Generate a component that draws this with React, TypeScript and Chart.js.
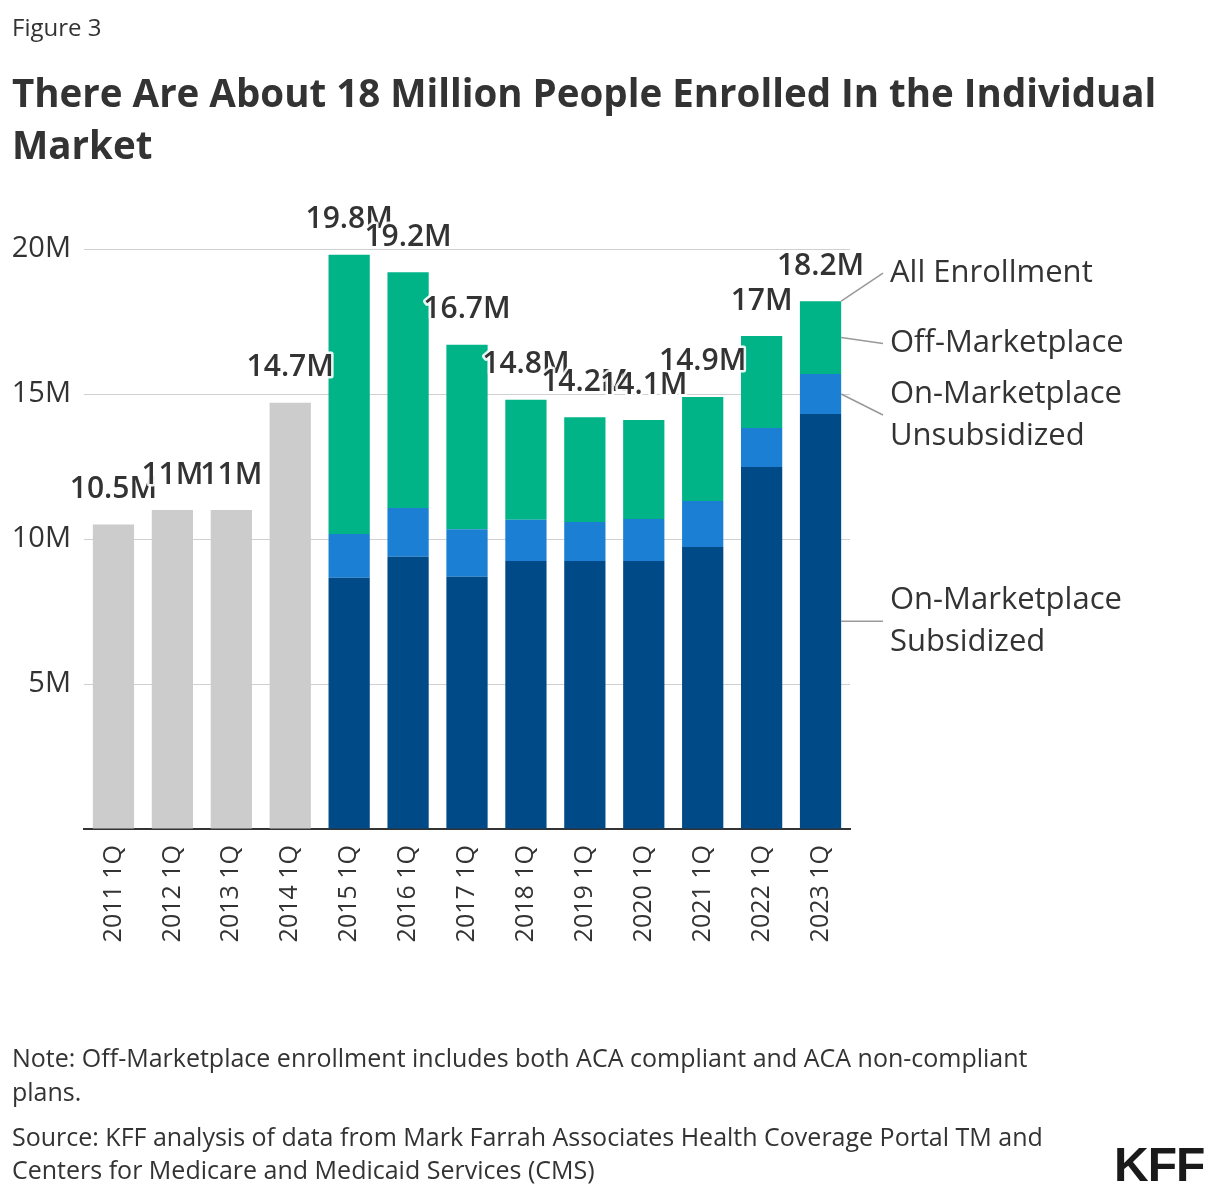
import React, { useEffect, useRef } from "react";
import { Chart, registerables } from "chart.js";

Chart.register(...registerables);

const categories = [
  "2011 1Q", "2012 1Q", "2013 1Q", "2014 1Q", "2015 1Q", "2016 1Q", "2017 1Q",
  "2018 1Q", "2019 1Q", "2020 1Q", "2021 1Q", "2022 1Q", "2023 1Q",
];
const allEnrollmentPre2015 = [10.5, 11, 11, 14.7, null, null, null, null, null, null, null, null, null];
const onMarketplaceSubsidized = [null, null, null, null, 8.66, 9.39, 8.7, 9.24, 9.24, 9.24, 9.72, 12.48, 14.31];
const onMarketplaceUnsubsidized = [null, null, null, null, 1.51, 1.68, 1.64, 1.42, 1.35, 1.45, 1.59, 1.35, 1.38];
const offMarketplace = [null, null, null, null, 9.63, 8.13, 6.36, 4.14, 3.61, 3.41, 3.59, 3.17, 2.51];
const yTickValues = [5, 10, 15, 20];

const FONT = "'Open Sans', 'Noto Sans', sans-serif";
const TEXT = "#333333";

const COLORS = {
  gray: "#cccccc",
  sub: "#004a87",
  unsub: "#1b80d4",
  off: "#00b487",
};

function fmt(v: number) {
  const r = Math.round(v * 10) / 10;
  return (Number.isInteger(r) ? r.toFixed(0) : r.toFixed(1)) + "M";
}

const totalsPlugin = {
  id: "totals",
  afterDatasetsDraw(chart: any) {
    const ctx = chart.ctx;
    const y = chart.scales.y;
    ctx.save();
    ctx.font = `600 30px ${FONT}`;
    ctx.textAlign = "center";
    ctx.textBaseline = "middle";
    ctx.lineJoin = "round";
    categories.forEach((_, i) => {
      let total = 0;
      let x = 0;
      chart.data.datasets.forEach((ds: any, di: number) => {
        const v = ds.data[i];
        if (v != null) {
          total += v;
          const el = chart.getDatasetMeta(di).data[i];
          x = el.x;
        }
      });
      const ty = y.getPixelForValue(total) - 35;
      const label = fmt(total);
      ctx.strokeStyle = "rgba(255,255,255,0.9)";
      ctx.lineWidth = 5;
      ctx.strokeText(label, x, ty);
      ctx.fillStyle = TEXT;
      ctx.fillText(label, x, ty);
    });
    ctx.restore();
  },
};

const annotationPlugin = {
  id: "annot",
  afterDatasetsDraw(chart: any) {
    const ctx = chart.ctx;
    const last = categories.length - 1;
    const subEl = chart.getDatasetMeta(1).data[last];
    const unsubEl = chart.getDatasetMeta(2).data[last];
    const offEl = chart.getDatasetMeta(3).data[last];
    const right = subEl.x + subEl.width / 2;
    const textX = 890;
    const lineEndX = 883;
    const items = [
      { anchor: offEl.y, lines: ["All Enrollment"], ty: offEl.y - 28 },
      { anchor: (offEl.y + offEl.base) / 2, lines: ["Off-Marketplace"], ty: (offEl.y + offEl.base) / 2 + 6 },
      { anchor: (unsubEl.y + unsubEl.base) / 2, lines: ["On-Marketplace", "Unsubsidized"], ty: (unsubEl.y + unsubEl.base) / 2 + 21 },
      { anchor: (subEl.y + subEl.base) / 2, lines: ["On-Marketplace", "Subsidized"], ty: (subEl.y + subEl.base) / 2 },
    ];
    ctx.save();
    ctx.strokeStyle = "#999999";
    ctx.lineWidth = 1.5;
    ctx.font = `400 31px ${FONT}`;
    ctx.fillStyle = TEXT;
    ctx.textAlign = "left";
    ctx.textBaseline = "middle";
    const lh = 42;
    items.forEach((it) => {
      ctx.beginPath();
      ctx.moveTo(right, it.anchor);
      ctx.lineTo(lineEndX, it.ty);
      ctx.stroke();
      const n = it.lines.length;
      it.lines.forEach((t, k) => {
        const yy = it.ty - ((n - 1) * lh) / 2 + k * lh;
        ctx.fillText(t, textX, yy);
      });
    });
    ctx.restore();
  },
};

export default function App() {
  const ref = useRef<HTMLCanvasElement | null>(null);

  useEffect(() => {
    const canvas = ref.current;
    if (!canvas) return;
    const chart = new Chart(canvas, {
      type: "bar",
      data: {
        labels: categories,
        datasets: [
          { label: "All Enrollment", data: allEnrollmentPre2015 as any, backgroundColor: COLORS.gray, stack: "s" },
          { label: "On-Marketplace Subsidized", data: onMarketplaceSubsidized as any, backgroundColor: COLORS.sub, stack: "s" },
          { label: "On-Marketplace Unsubsidized", data: onMarketplaceUnsubsidized as any, backgroundColor: COLORS.unsub, stack: "s" },
          { label: "Off-Marketplace", data: offMarketplace as any, backgroundColor: COLORS.off, stack: "s" },
        ],
      },
      options: {
        responsive: false,
        animation: false,
        devicePixelRatio: 1,
        layout: { padding: { left: 0, top: 249, right: 370, bottom: 0 } },
        plugins: {
          legend: { display: false },
          tooltip: { enabled: false },
          title: { display: false },
        },
        datasets: { bar: { categoryPercentage: 1, barPercentage: 0.7, borderWidth: 0 } },
        scales: {
          x: {
            stacked: true,
            grid: { display: false, drawTicks: false },
            border: { display: true, color: "#333333", width: 2 },
            ticks: {
              minRotation: 90,
              maxRotation: 90,
              autoSkip: false,
              padding: 16,
              color: TEXT,
              font: { family: FONT, size: 25 },
            },
            afterFit(scale: any) {
              scale.height = 369;
            },
          },
          y: {
            stacked: true,
            min: 0,
            max: 20,
            afterBuildTicks(scale: any) {
              scale.ticks = [0, ...yTickValues].map((v) => ({ value: v }));
            },
            grid: { color: "#d0d0d0", lineWidth: 1, drawTicks: false },
            border: { display: false },
            ticks: {
              padding: 13,
              color: TEXT,
              font: { family: FONT, size: 29 },
              callback: (v: any) => (v === 0 ? "" : v + "M"),
            },
            afterFit(scale: any) {
              scale.width = 84;
            },
          },
        },
      },
      plugins: [totalsPlugin, annotationPlugin],
    } as any);
    return () => chart.destroy();
  }, []);

  return (
    <div style={{ position: "absolute", left: 0, top: 0, width: 1220, height: 1198, background: "#fff", fontFamily: FONT, color: TEXT }}>
      <canvas ref={ref} width={1220} height={1198} style={{ position: "absolute", left: 0, top: 0 }} />
      <div style={{ position: "absolute", left: 12, top: 11, fontSize: 24, lineHeight: "32px" }}>Figure 3</div>
      <div style={{ position: "absolute", left: 12, top: 66, fontSize: 38.5, fontWeight: 700, lineHeight: "52px", width: 1210, whiteSpace: "nowrap" }}>
        There Are About 18 Million People Enrolled In the Individual
        <br />
        Market
      </div>
      <div style={{ position: "absolute", left: 12, top: 1040, fontSize: 25, lineHeight: "34px", whiteSpace: "nowrap" }}>
        Note: Off-Marketplace enrollment includes both ACA compliant and ACA non-compliant
        <br />
        plans.
      </div>
      <div style={{ position: "absolute", left: 12, top: 1120, fontSize: 25, lineHeight: "33px", whiteSpace: "nowrap" }}>
        Source: KFF analysis of data from Mark Farrah Associates Health Coverage Portal TM and
        <br />
        Centers for Medicare and Medicaid Services (CMS)
      </div>
      <div style={{ position: "absolute", left: 1114, top: 1136, fontSize: 48, fontWeight: 700, lineHeight: "58px", fontFamily: "'Liberation Sans', Arial, sans-serif", color: "#1a1a1a", letterSpacing: -1 }}>
        KFF
      </div>
    </div>
  );
}
